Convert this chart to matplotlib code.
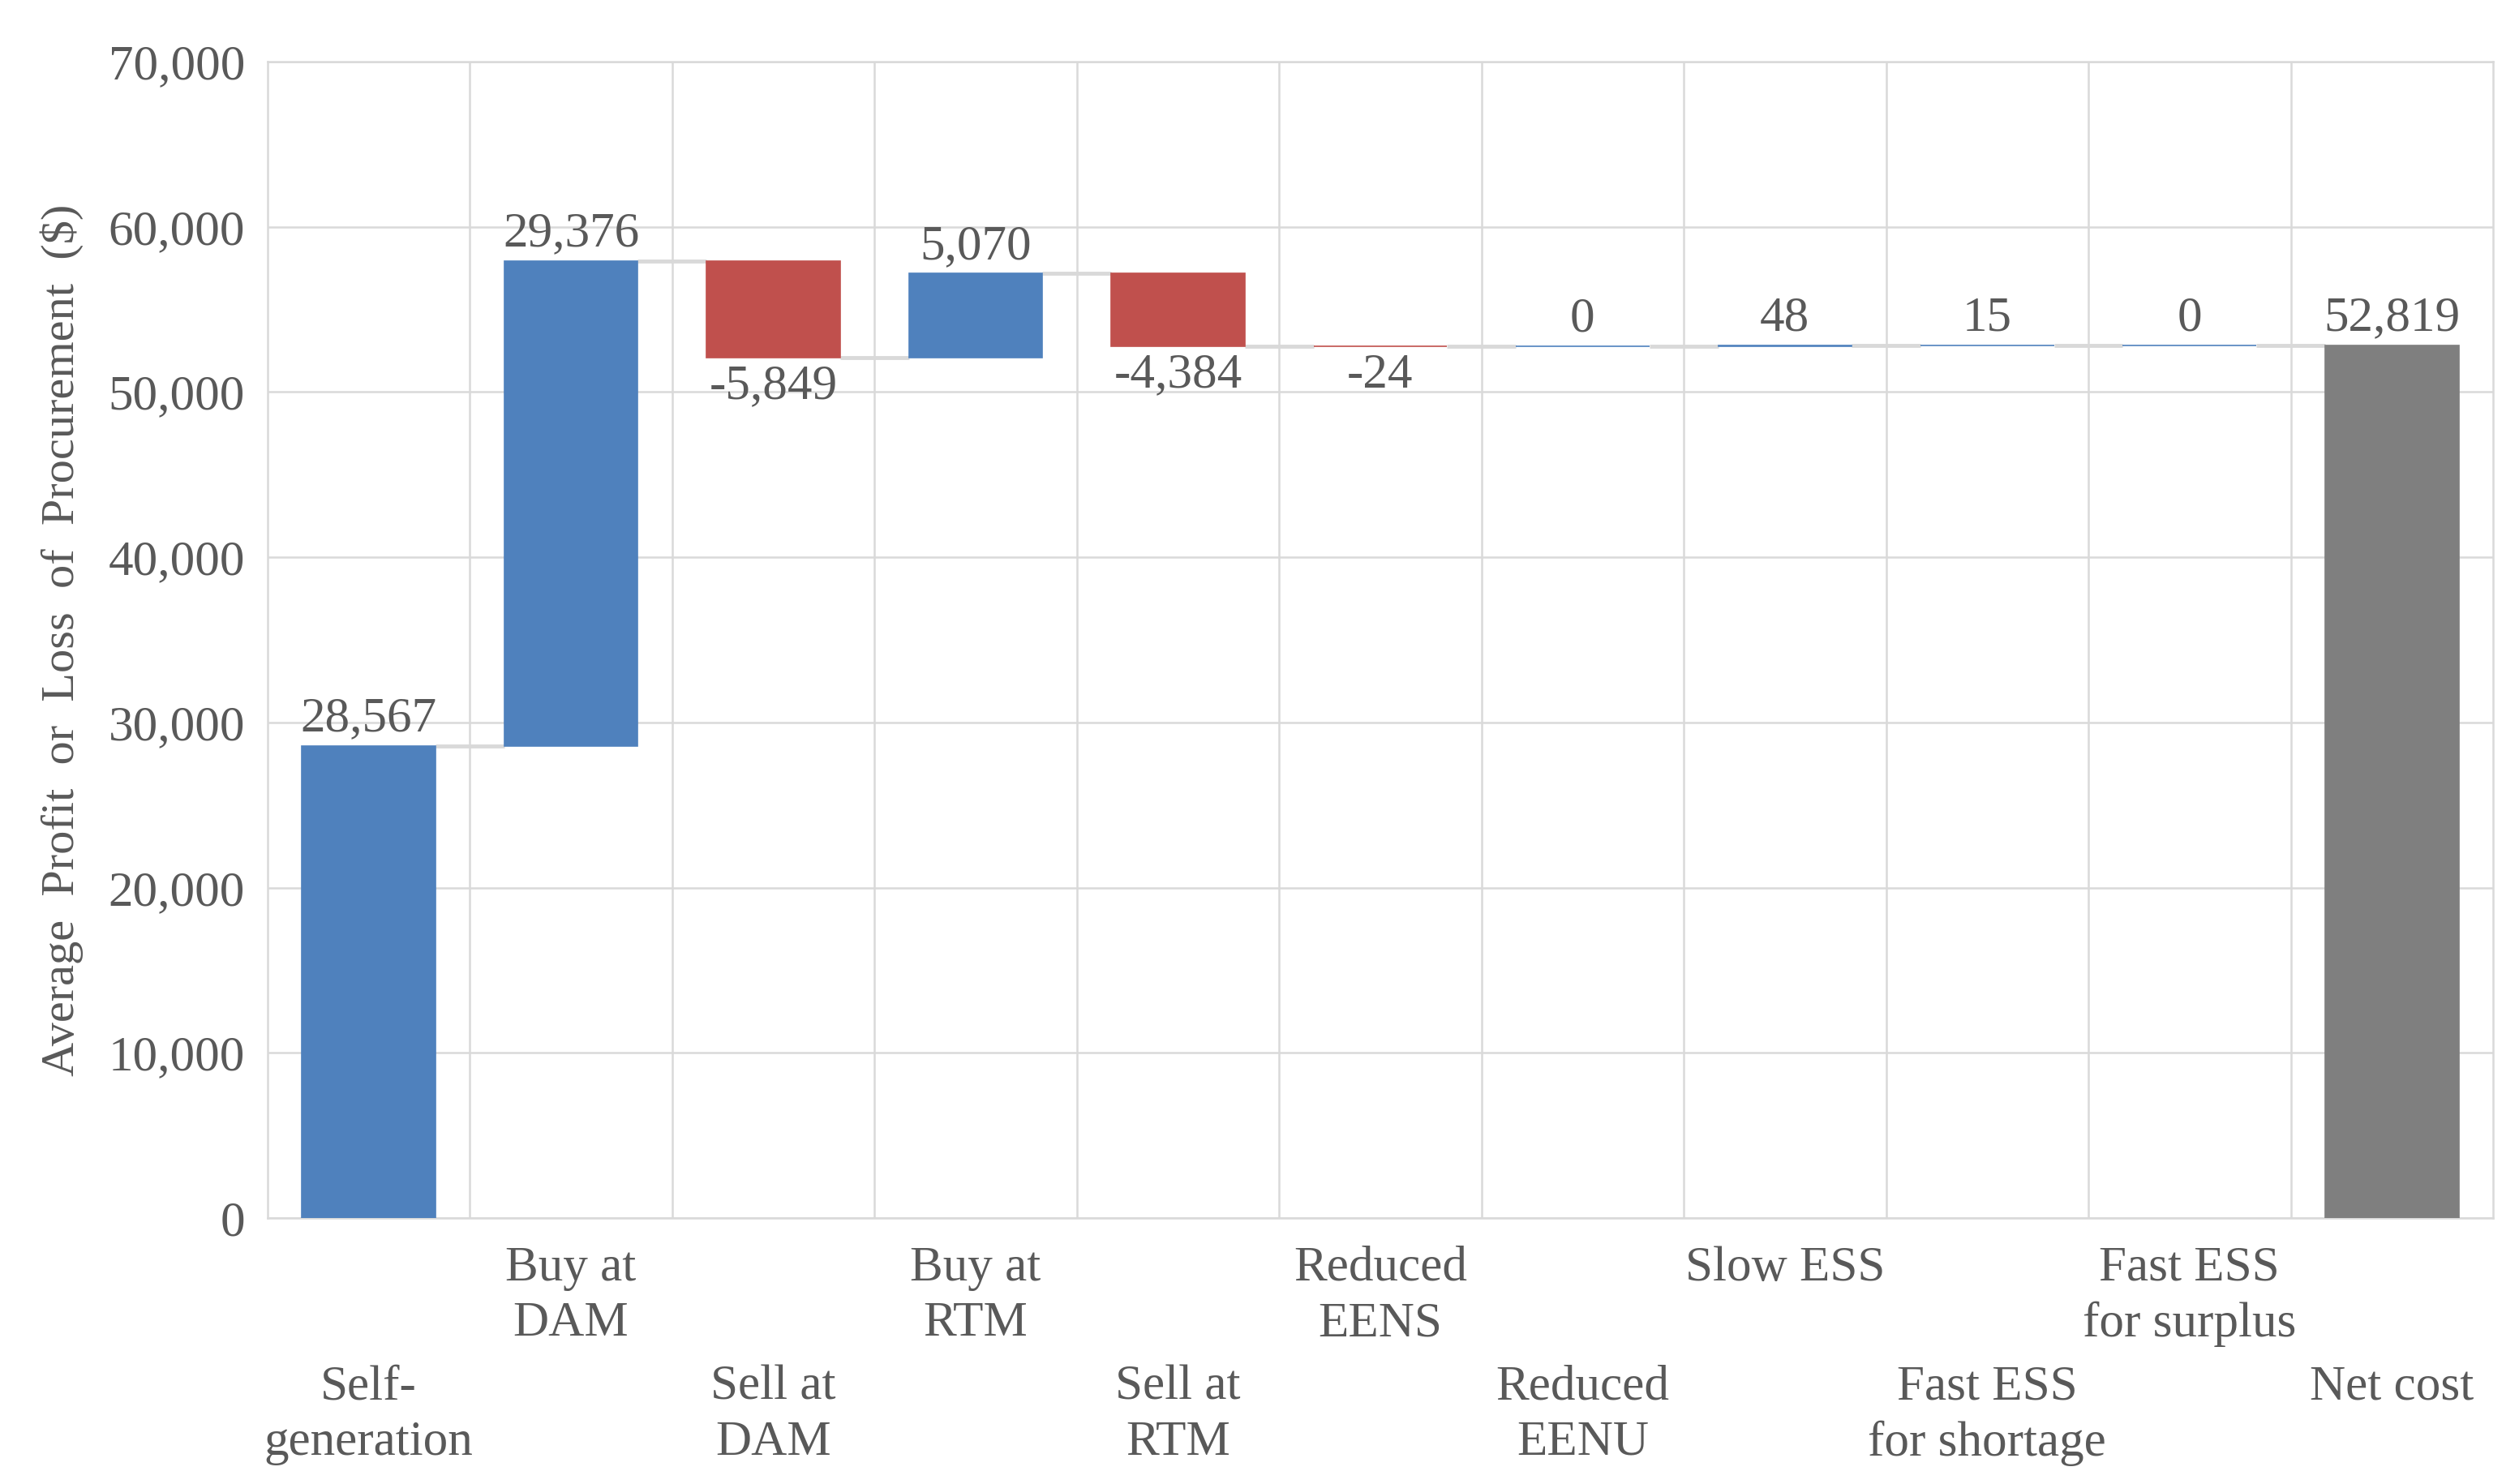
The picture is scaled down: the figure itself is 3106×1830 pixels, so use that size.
import numpy as np
import matplotlib
matplotlib.use('Agg')
import matplotlib.pyplot as plt
import matplotlib.transforms as mtransforms
from matplotlib.ticker import FuncFormatter

# --- Data ---
categories = ['Self-\ngeneration', 'Buy at\nDAM', 'Sell at\nDAM', 'Buy at\nRTM',
              'Sell at\nRTM', 'Reduced\nEENS', 'Reduced\nEENU', 'Slow ESS',
              'Fast ESS\nfor shortage', 'Fast ESS\nfor surplus', 'Net cost']
changes = [28567, 29376, -5849, 5070, -4384, -24, 0, 48, 15, 0]
net_total = 52819

BLUE = '#4F81BD'
RED = '#C0504D'
GRAY = '#7F7F7F'
GRID = '#D9D9D9'
TEXT = '#595959'

plt.rcParams['font.family'] = ['Liberation Serif', 'DejaVu Serif']
plt.rcParams['font.size'] = 44

fig = plt.figure(figsize=(31.06, 18.30), dpi=100)
ax = fig.add_axes([0.1062, 0.1792, 0.8835, 0.7793])

n = len(categories)
x = np.arange(n)
width = 0.66

# running totals
starts = np.concatenate([[0], np.cumsum(changes)[:-1]])
ends = np.cumsum(changes)

bottoms = list(starts) + [0]
heights = list(changes) + [net_total]
colors = [BLUE if v >= 0 else RED for v in changes] + [GRAY]

ax.bar(x, heights, bottom=bottoms, width=width, color=colors,
       edgecolor=colors, linewidth=1.2, zorder=3)

# connector lines
levels = list(ends)
for i in range(n - 1):
    ax.plot([x[i] + width / 2, x[i + 1] - width / 2], [levels[i], levels[i]],
            color=GRID, lw=3.5, zorder=2, solid_capstyle='butt')

# data labels
for i in range(n):
    val = heights[i]
    top = bottoms[i] + max(val, 0)
    bot = bottoms[i] + min(val, 0)
    if val >= 0:
        ax.annotate(f'{val:,}', (x[i], top), xytext=(0, 4), textcoords='offset points',
                    ha='center', va='bottom', color=TEXT, fontsize=44, zorder=4)
    else:
        ax.annotate(f'{val:,}', (x[i], bot), xytext=(0, -6), textcoords='offset points',
                    ha='center', va='top', color=TEXT, fontsize=44, zorder=4)

# axes styling
ax.set_xlim(-0.5, n - 0.5)
ax.set_ylim(0, 70000)
ax.set_yticks(np.arange(0, 70001, 10000))
ax.yaxis.set_major_formatter(FuncFormatter(lambda v, p: f'{int(v):,}'))
ax.grid(axis='y', color=GRID, lw=1.8, zorder=0)
for b in np.arange(0.5, n - 0.5, 1):
    ax.axvline(b, color=GRID, lw=1.8, zorder=0)
for s in ax.spines.values():
    s.set_color(GRID)
    s.set_linewidth(1.8)

# staggered category labels (odd ones on the upper row)
ax.set_xticks(x)
ax.set_xticklabels([])
ax.tick_params(axis='x', length=0)
trans = mtransforms.blended_transform_factory(ax.transData, ax.transAxes)
for i, c in enumerate(categories):
    yrow = -0.024 if i % 2 == 1 else -0.127
    ax.text(x[i], yrow, c, transform=trans, ha='center', va='top',
            multialignment='center', linespacing=1.3, color=TEXT, fontsize=44)

ax.tick_params(axis='y', length=0, pad=20, colors=TEXT, labelsize=44)

ax.set_ylabel('Average  Profit  or  Loss  of  Procurement  ($)', color=TEXT,
              fontsize=42, labelpad=22)

fig.savefig('out.png', dpi=100)
